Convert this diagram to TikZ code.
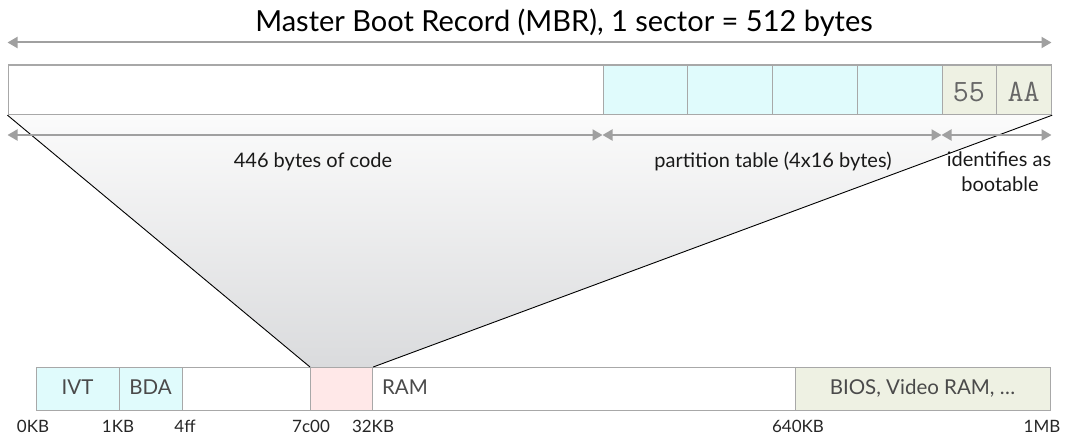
\documentclass[tikz,border=0pt]{standalone}
\usepackage{fontspec}
\setmainfont{Lato}
\usetikzlibrary{arrows.meta,backgrounds}
\definecolor{boxline}{HTML}{A8A8A8}
\definecolor{arrowgray}{HTML}{A0A0A0}
\definecolor{cyanfill}{HTML}{E0FBFC}
\definecolor{beigefill}{HTML}{EEF1E3}
\definecolor{pinkfill}{HTML}{FFE8E8}
\definecolor{memtext}{HTML}{4A4A4A}
\definecolor{hextext}{HTML}{666666}
\definecolor{shadetop}{HTML}{FBFBFB}
\definecolor{shadebot}{HTML}{DADBDD}
\tikzset{
  cell/.style={draw=boxline, line width=1.2pt, rectangle, inner sep=0pt, anchor=north west},
  dimarrow/.style={draw=arrowgray, line width=2pt, {Triangle[length=10pt,width=11pt]}-{Triangle[length=10pt,width=11pt]}},
  toplabel/.style={font=\fontsize{20}{23}\selectfont, text=black!90, anchor=base, inner sep=0pt},
  memlabel/.style={font=\fontsize{20.5}{24}\selectfont, text=memtext, anchor=base, inner sep=0pt},
  ticklabel/.style={font=\fontsize{17}{20}\selectfont, text=black!85, anchor=base, inner sep=0pt},
  hexlabel/.style={font=\ttfamily\fontsize{31}{33}\selectfont, text=hextext, anchor=base, inner sep=0pt},
  zoomline/.style={draw=black, line width=0.9pt}
}
\begin{document}
\begin{tikzpicture}[x=1pt,y=-1pt]
\useasboundingbox (0,0) rectangle (1072,435);

% title
\node[font=\fontsize{29}{32}\selectfont, anchor=base, inner sep=0pt] (title) at (564,32) {Master Boot Record (MBR), 1 sector = 512 bytes};
\coordinate (tl) at (7.5,42.5);
\coordinate (tr) at (1051.5,42.5);
\draw[dimarrow] (tl) -- (tr);

% MBR bar
\node[cell, fill=white, minimum width=595, minimum height=49.5] (code) at (7.5,64.5) {};
\node[cell, fill=cyanfill, minimum width=84.75, minimum height=49.5] (p1) at (602.5,64.5) {};
\node[cell, fill=cyanfill, minimum width=84.75, minimum height=49.5] (p2) at (687.25,64.5) {};
\node[cell, fill=cyanfill, minimum width=84.75, minimum height=49.5] (p3) at (772,64.5) {};
\node[cell, fill=cyanfill, minimum width=84.75, minimum height=49.5] (p4) at (856.75,64.5) {};
\node[cell, fill=beigefill, minimum width=54.5, minimum height=49.5] (s55) at (941.5,64.5) {};
\node[cell, fill=beigefill, minimum width=55, minimum height=49.5] (saa) at (996,64.5) {};
\node[hexlabel] (t55) at (968.75,101.5) {55};
\node[hexlabel] (taa) at (1023.5,101.5) {AA};

% memory bar
\node[cell, fill=white, minimum width=1014, minimum height=43] (mem) at (36,367) {};
\node[cell, fill=cyanfill, minimum width=83, minimum height=43] (ivt) at (36,367) {};
\node[cell, fill=cyanfill, minimum width=63, minimum height=43] (bda) at (119,367) {};
\node[cell, fill=pinkfill, minimum width=62, minimum height=43] (boot) at (310,367) {};
\node[cell, fill=beigefill, minimum width=255, minimum height=43] (bios) at (795,367) {};
\node[memlabel] (tivt) at (77.5,395) {IVT};
\node[memlabel] (tbda) at (150.5,395) {BDA};
\node[memlabel] (tram) at (405,395) {RAM};
\node[memlabel] (tbios) at (922.5,395) {BIOS, Video RAM, \dots};

% zoom trapezoid
\begin{scope}[on background layer]
\shade[top color=shadetop, bottom color=shadebot] (code.south west) -- (saa.south east) -- (boot.north east) -- (boot.north west) -- cycle;
\end{scope}
\draw[zoomline] (code.south west) -- (boot.north west);
\draw[zoomline] (saa.south east) -- (boot.north east);

% dimension arrows
\coordinate (a0) at (7.5,135);
\coordinate (a1) at (602.5,135);
\coordinate (a2) at (941.5,135);
\coordinate (a3) at (1051.5,135);
\draw[dimarrow] (a0) -- (a1);
\draw[dimarrow] (a1) -- (a2);
\draw[dimarrow] (a2) -- (a3);
\node[toplabel] (lcode) at (313,167.5) {446 bytes of code};
\node[toplabel] (lpart) at (773,167.5) {partition table (4x16 bytes)};
\node[toplabel] (lid1) at (999,167) {identifies as};
\node[toplabel] (lid2) at (1000,192) {bootable};

% address ticks
\node[ticklabel] (k0) at (33,432.5) {0KB};
\node[ticklabel] (k1) at (118,432.5) {1KB};
\node[ticklabel] (k4ff) at (185,432.5) {4ff};
\node[ticklabel] (k7c) at (311,432.5) {7c00};
\node[ticklabel] (k32) at (373,432.5) {32KB};
\node[ticklabel] (k640) at (798,432.5) {640KB};
\node[ticklabel] (k1m) at (1042,432.5) {1MB};
\end{tikzpicture}
\end{document}
